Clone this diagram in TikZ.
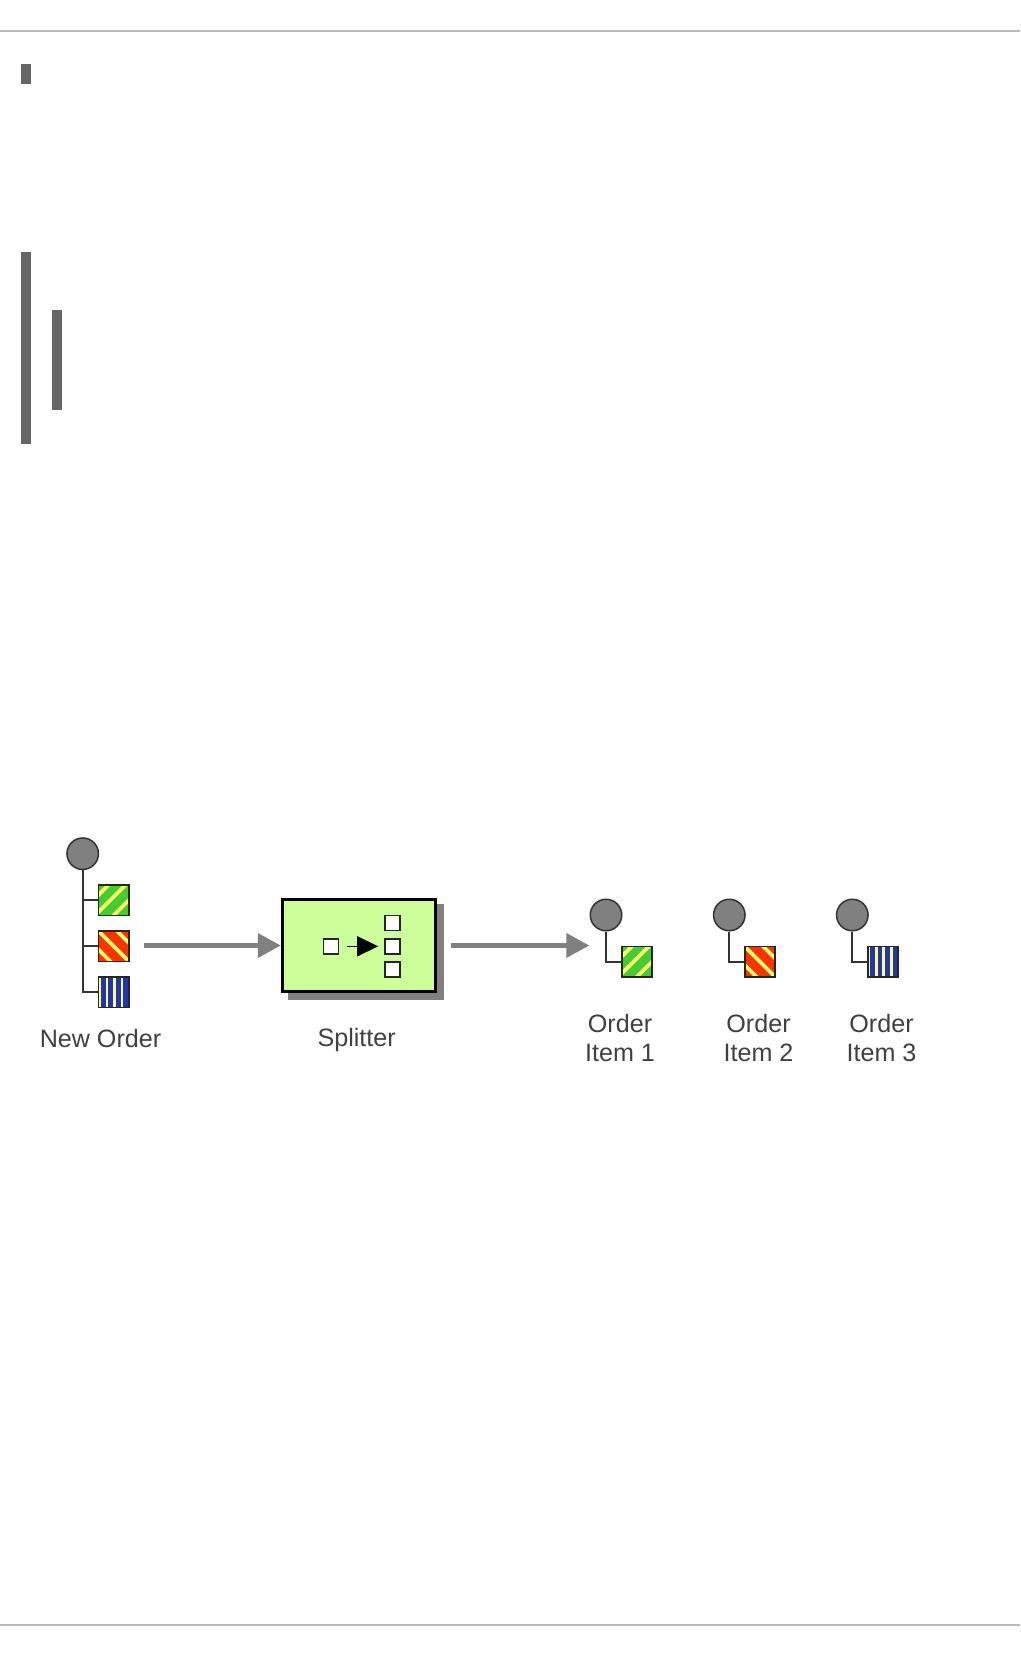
\documentclass[tikz,border=0pt]{standalone}
\usepackage{fontspec}
\setmainfont{Liberation Sans}
\usetikzlibrary{arrows.meta,shadows}
\definecolor{bargray}{HTML}{666666}
\definecolor{rulegray}{HTML}{BBBBBB}
\definecolor{flowgray}{HTML}{808080}
\definecolor{boxgreen}{HTML}{CCFF99}
\definecolor{msggreen}{HTML}{44CC33}
\definecolor{msgred}{HTML}{FF3300}
\definecolor{msgblue}{HTML}{2233BB}
\definecolor{msgyellow}{HTML}{FFFF66}
\tikzset{
    msgbase/.style={draw=black!85, line width=.32mm, minimum size=6.1mm, inner sep=0pt},
    msggreenbox/.style={msgbase, fill=msggreen, path picture={
        \foreach \d in {-4.1,-.7,3} {
            \draw[msgyellow, line width=.75mm]
                (path picture bounding box.south west) ++(\d mm - 1mm,-1mm) -- ++(9mm,9mm);
        }}},
    msgredbox/.style={msgbase, fill=msgred, path picture={
        \foreach \d in {-3.7,0,3.7} {
            \draw[msgyellow, line width=.75mm]
                (path picture bounding box.north west) ++(\d mm - 1mm,1mm) -- ++(9mm,-9mm);
        }}},
    msgbluebox/.style={msgbase, fill=msgblue, path picture={
        \foreach \d in {.2,1.7,3.2,4.7} {
            \draw[msgyellow, line width=.55mm]
                (path picture bounding box.south west) ++(\d mm,0) -- ++(0,7mm);
        }}},
    ordercircle/.style={circle, draw=black!80, fill=flowgray, line width=.3mm, minimum size=6.3mm, inner sep=0pt},
    stem/.style={draw=black!80, line width=.36mm},
    flow/.style={draw=flowgray, line width=.85mm, -{Triangle[length=4.6mm,width=4.8mm,fill=flowgray]}},
    splitterbox/.style={draw=black, fill=boxgreen, line width=.6mm, inner sep=0pt, minimum width=30.7mm, minimum height=18.5mm,
        drop shadow={shadow xshift=1.4mm, shadow yshift=-1.25mm, opacity=1, fill=flowgray, draw=flowgray, line width=.6mm}},
    minibox/.style={draw=black!85, fill=white, line width=.32mm, minimum size=3mm, inner sep=0pt},
    caption/.style={text=black!75, font=\fontsize{14.3}{17}\selectfont, align=center, inner sep=0pt},
}
\begin{document}
\begin{tikzpicture}[x=0.2mm, y=-0.2mm]
    \useasboundingbox (0,0) rectangle (1020,1656);
    % page furniture
    \fill[rulegray] (0,30) rectangle (1020,32);
    \fill[rulegray] (0,1624) rectangle (1020,1626);
    \fill[bargray] (21,64) rectangle (31,84);
    \fill[bargray] (21,252) rectangle (31,444);
    \fill[bargray] (52,310) rectangle (62,410);

    % incoming order
    \node[ordercircle] (neworder) at (82.7,853.7) {};
    \node[msggreenbox] (part1) at (113.8,900.2) {};
    \node[msgredbox] (part2) at (113.8,946.3) {};
    \node[msgbluebox] (part3) at (113.8,992.3) {};
    \draw[stem] (neworder.south) |- (part3.west);
    \draw[stem] (neworder.south |- part1.west) -- (part1.west);
    \draw[stem] (neworder.south |- part2.west) -- (part2.west);
    \node[caption] (neworderlabel) at (100.5,1039) {New Order};

    % splitter
    \node[splitterbox] (splitter) at (359,945.5) {};
    \node[minibox] (srcbox) at (331,946.3) {};
    \node[minibox] (dstone) at (392.5,923) {};
    \node[minibox] (dsttwo) at (392.5,946.3) {};
    \node[minibox] (dstthree) at (392.5,969.5) {};
    \draw[draw=black, line width=.3mm, -{Triangle[length=4.2mm,width=4mm]}, shorten <=1.6mm, shorten >=1.2mm] (srcbox.east) -- (dsttwo.west);
    \node[caption] (splitterlabel) at (356.7,1040) {Splitter};

    % flows
    \coordinate (flowend) at (589.3,945.5);
    \draw[flow, shorten <=2.8mm] (part2.east |- splitter.west) -- (splitter.west);
    \draw[flow, shorten <=2.8mm] (splitter.east) -- (flowend);

    % order items
    \node[ordercircle] (order1) at (606,915) {};
    \node[ordercircle] (order2) at (729.3,915) {};
    \node[ordercircle] (order3) at (852.3,915) {};
    \node[msggreenbox] (item1) at (637,961.8) {};
    \node[msgredbox] (item2) at (760,961.8) {};
    \node[msgbluebox] (item3) at (883,961.8) {};
    \draw[stem] (order1.south) |- (item1.west);
    \draw[stem] (order2.south) |- (item2.west);
    \draw[stem] (order3.south) |- (item3.west);
    \node[caption] (item1label) at (620,1038) {Order\\Item 1};
    \node[caption] (item2label) at (758.5,1038) {Order\\Item 2};
    \node[caption] (item3label) at (881.5,1038) {Order\\Item 3};
\end{tikzpicture}
\end{document}
